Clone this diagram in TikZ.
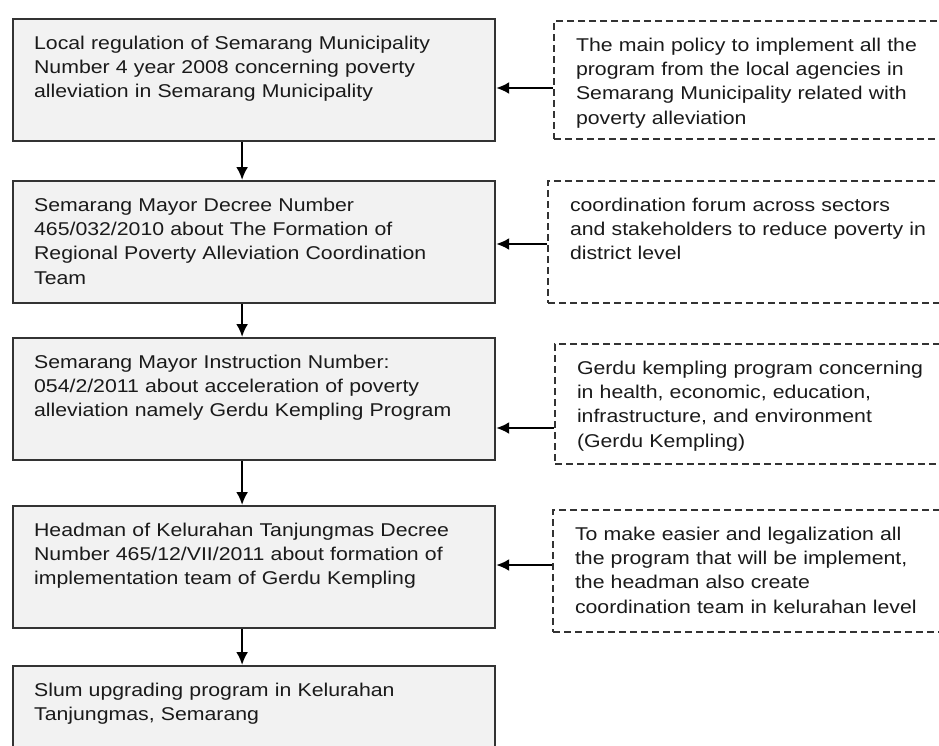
\documentclass[tikz,border=0pt]{standalone}
\usepackage{fontspec}
\setmainfont[FakeStretch=1.15]{Liberation Sans}
\usetikzlibrary{arrows.meta}
\definecolor{boxfill}{HTML}{F2F2F2}
\definecolor{boxline}{HTML}{333333}
\definecolor{inktext}{HTML}{1A1A1A}

\begin{document}
\begin{tikzpicture}[x=1pt, y=1pt, font=\fontsize{18.5}{24.4}\selectfont, text=inktext,
    lawbox/.style={rectangle, draw=boxline, line width=2.2pt, fill=boxfill, anchor=north west, align=left, text width=440pt, inner xsep=21pt, inner ysep=17pt, text height=13pt, text depth=75pt},
    notebox/.style={rectangle, draw=boxline, dash pattern=on 7pt off 4pt, line width=2pt, anchor=north west, align=left, text width=380pt, inner xsep=22pt, inner ysep=17pt, text height=13pt, text depth=75pt},
    link/.style={line width=2.2pt, -{Latex[length=13pt,width=12pt]}}]
         \useasboundingbox (0, 0) rectangle (939, -745);
         % regulations, top to bottom
         \node[lawbox] (law1) at (12, -18) {Local regulation of Semarang Municipality \\ Number 4 year 2008 concerning poverty \\ alleviation in Semarang Municipality};
         \node[lawbox] (law2) at (12, -180) {Semarang Mayor Decree Number \\ 465/032/2010 about The Formation of \\ Regional Poverty Alleviation Coordination \\ Team};
         \node[lawbox] (law3) at (12, -337) {Semarang Mayor Instruction Number: \\ 054/2/2011 about acceleration of poverty \\ alleviation namely Gerdu Kempling Program};
         \node[lawbox] (law4) at (12, -505) {Headman of Kelurahan Tanjungmas Decree \\ Number 465/12/VII/2011 about formation of \\ implementation team of Gerdu Kempling};
         \node[lawbox,text depth=110pt] (law5) at (12, -665) {Slum upgrading program in Kelurahan \\ Tanjungmas, Semarang};
         % notes on the right
         \node[notebox,text depth=71pt] (note1) at (553, -20) {The main policy to implement all the \\ program from the local agencies in \\ Semarang Municipality related with \\ poverty alleviation};
         \node[notebox] (note2) at (547, -180) {coordination forum across sectors \\ and stakeholders to reduce poverty in \\ district level};
         \node[notebox,text depth=73pt] (note3) at (554, -343) {Gerdu kempling program concerning \\ in health, economic, education, \\ infrastructure, and environment \\ (Gerdu Kempling)};
         \node[notebox] (note4) at (552, -509) {To make easier and legalization all \\ the program that will be implement, \\ the headman also create \\ coordination team in kelurahan level};
         \foreach \a/\b in {law1/law2, law2/law3, law3/law4, law4/law5}
            \draw[link] ([xshift=-12pt]\a.south) -- ([xshift=-12pt]\b.north);
         \coordinate (tail1) at ([yshift=-8pt]note1.west);
         \coordinate (tail2) at ([yshift=-2pt]note2.west);
         \coordinate (tail3) at ([yshift=-24pt]note3.west);
         \coordinate (tail4) at ([yshift=6pt]note4.west);
         \foreach \i in {1,...,4}
            \draw[link] (tail\i) -- (tail\i -| law\i.east);
 \end{tikzpicture}
\end{document}
